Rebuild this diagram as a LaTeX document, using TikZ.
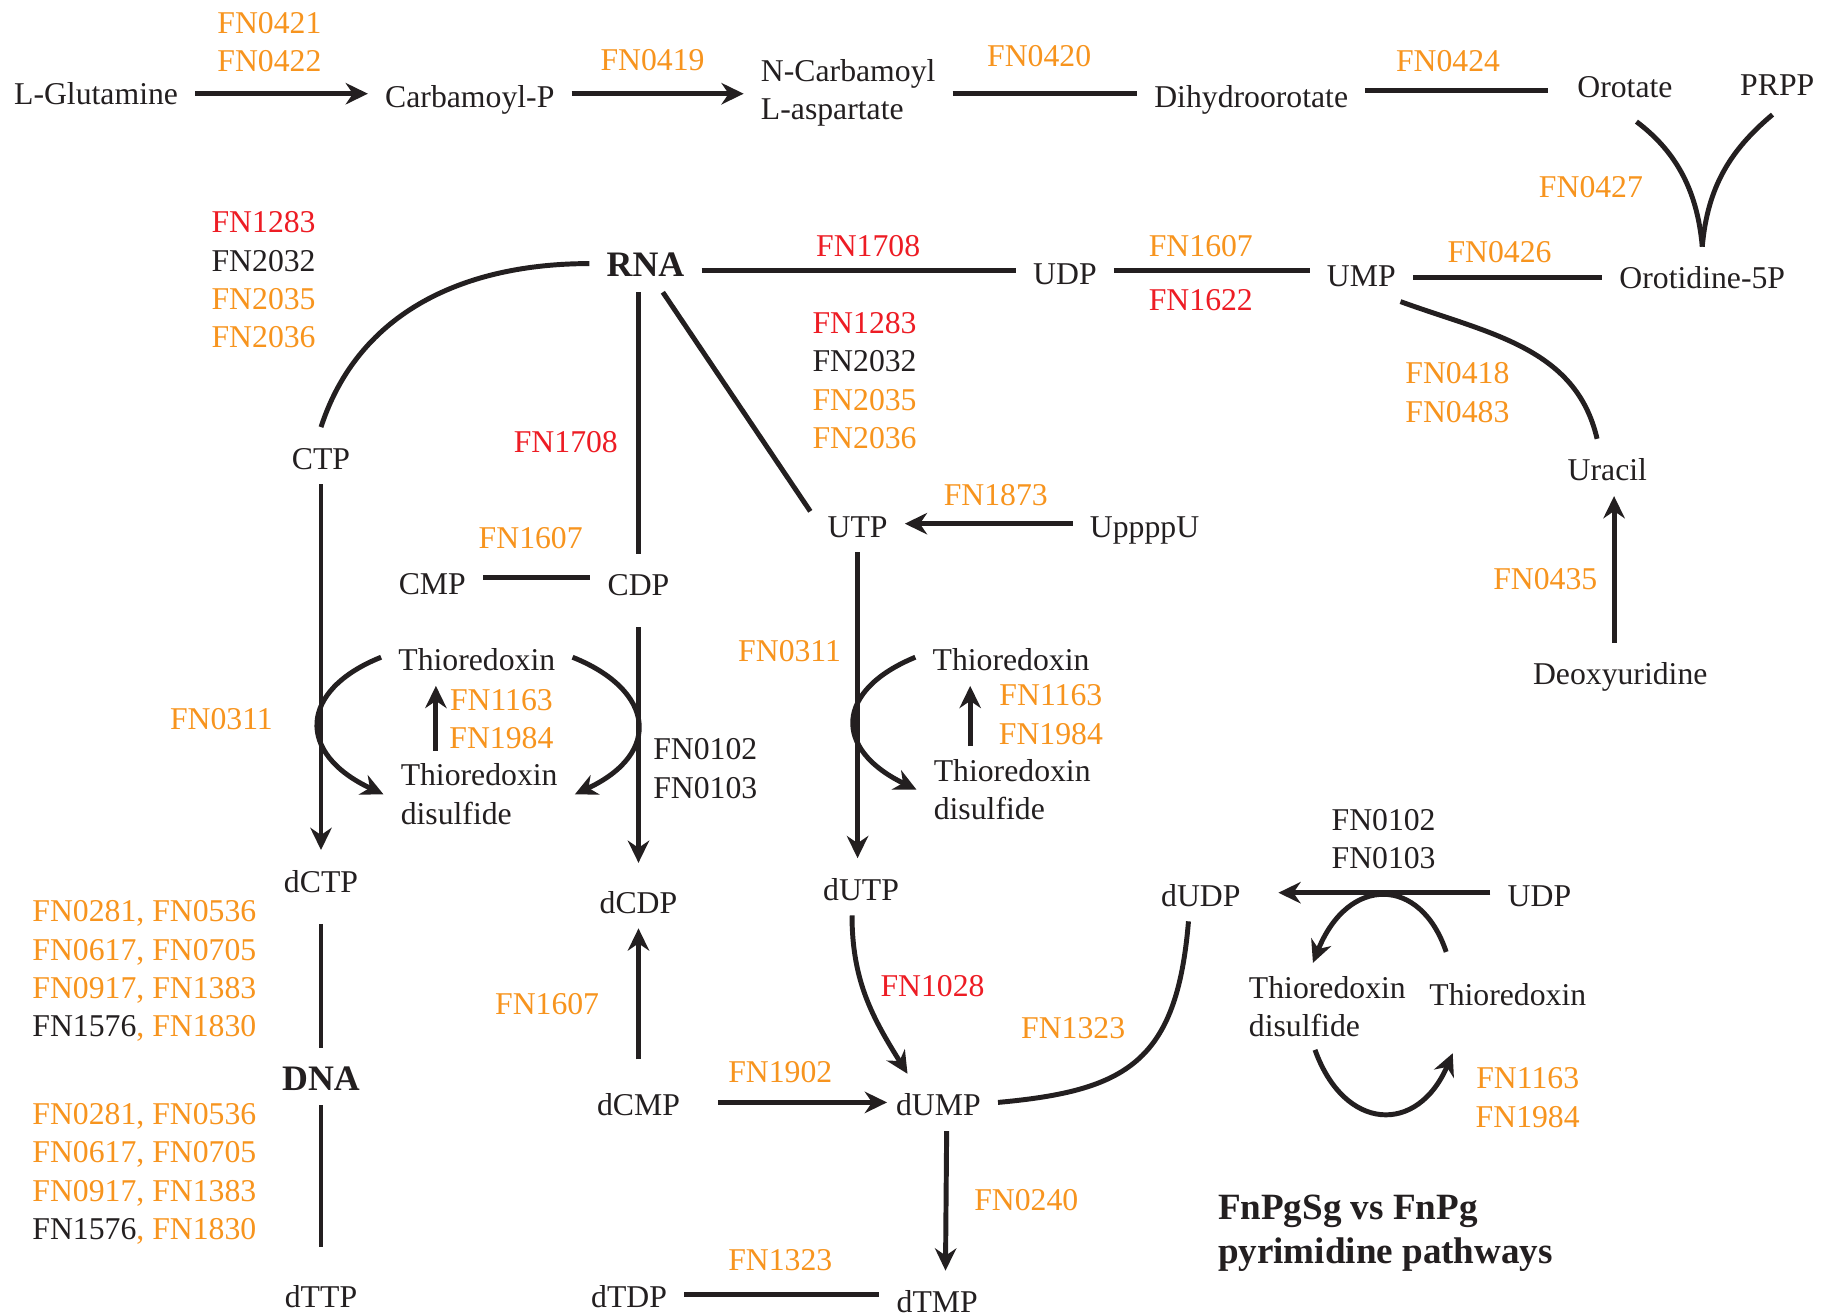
\documentclass[tikz,border=0pt]{standalone}
\usepackage{fontspec}
\setmainfont{Liberation Serif}
\usetikzlibrary{arrows.meta}
\definecolor{fnorange}{RGB}{247,148,30}
\definecolor{fnred}{RGB}{237,28,36}
\definecolor{fnblack}{RGB}{35,31,32}
\begin{document}
\begin{tikzpicture}[x=0.01cm,y=-0.01cm,
  every node/.style={font=\fontsize{7.7}{9.3}\selectfont, text=fnblack},
  met/.style={inner xsep=4pt, inner ysep=3pt, text height=0.7em, text depth=0.05em},
  metl/.style={inner xsep=4pt, inner ysep=3pt, align=left},
  bold/.style={font=\fontsize{8.7}{10}\selectfont\bfseries},
  gene/.style={inner sep=1pt, align=center, text=fnorange},
  genered/.style={gene, text=fnred},
  geneblk/.style={gene, text=fnblack},
  link/.style={draw=fnblack, line width=1.2pt},
  conv/.style={link, -{Stealth[length=5.4pt,width=5.2pt]}}]
  \newcommand\nucstack{\textcolor{fnred}{FN1283}\\\textcolor{fnblack}{FN2032}\\FN2035\\FN2036}
  \useasboundingbox (0,0) rectangle (1568,1122);
  % de novo route
  \node[met] (glu) at (82,78) {L-Glutamine};
  \node[met] (carb) at (401,80) {Carbamoyl-P};
  \node[metl] (ncarb) at (724,79) {N-Carbamoyl\\L-aspartate};
  \node[met] (dho) at (1068,80) {Dihydroorotate};
  \node[met] (oro) at (1387,72) {Orotate};
  \node[met] (prpp) at (1517,70) {PRPP};
  \node[met] (o5p) at (1453,235) {Orotidine-5P};
  \node[met] (ump) at (1162,233) {UMP};
  \node[met] (udp) at (909,231) {UDP};
  \node[met, bold] (rna) at (551,225) {RNA};
  \node[met] (ura) at (1372,399) {Uracil};
  \node[met] (dur) at (1383,573) {Deoxyuridine};
  % ribo / deoxyribo nucleotides
  \node[met] (ctp) at (274,389) {CTP};
  \node[met] (cmp) at (369,496) {CMP};
  \node[met] (cdp) at (545,497) {CDP};
  \node[met] (utp) at (732,447) {UTP};
  \node[met] (upppu) at (977,447) {UppppU};
  \node[met] (dctp) at (274,750) {dCTP};
  \node[met, bold] (dna) at (274,919) {DNA};
  \node[met] (dttp) at (274,1105) {dTTP};
  \node[met] (dcdp) at (545,768) {dCDP};
  \node[met] (dcmp) at (545,941) {dCMP};
  \node[met] (dutp) at (735,757) {dUTP};
  \node[met] (dump) at (801,941) {dUMP};
  \node[met] (dtmp) at (800,1109) {dTMP};
  \node[met] (dtdp) at (537,1105) {dTDP};
  \node[met] (dudp) at (1025,762) {dUDP};
  \node[met] (udpb) at (1314,762) {UDP};
  % thioredoxin
  \node[met] (trxa) at (407,561) {Thioredoxin};
  \node[metl] (trxda) at (409,678) {Thioredoxin\\disulfide};
  \node[met] (trxb) at (863,561) {Thioredoxin};
  \node[metl] (trxdb) at (864,674) {Thioredoxin\\disulfide};
  \node[met] (trxc) at (1287,847) {Thioredoxin};
  \node[metl] (trxdc) at (1133,859) {Thioredoxin\\disulfide};
  \coordinate (tipc) at (1240,899);
  % genes
  \node[gene] (e1) at (230,36) {FN0421\\FN0422};
  \node[gene] (e2) at (557,51) {FN0419};
  \node[gene] (e3) at (887,48) {FN0420};
  \node[gene] (e4) at (1236,52) {FN0424};
  \node[gene] (e5) at (1358,160) {FN0427};
  \node[gene] (e6) at (1280,215) {FN0426};
  \node[gene] (e7) at (1025,210) {FN1607};
  \node[genered] (e8) at (1025,256) {FN1622};
  \node[genered] (e9) at (741,210) {FN1708};
  \node[gene] (e10) at (225,239) {\nucstack};
  \node[gene] (e11) at (738,325) {\nucstack};
  \node[genered] (e12) at (483,377) {FN1708};
  \node[gene] (e13) at (453,459) {FN1607};
  \node[gene] (e14) at (189,614) {FN0311};
  \node[gene] (e15) at (428,614) {FN1163\\FN1984};
  \node[geneblk] (e16) at (602,656) {FN0102\\FN0103};
  \node[gene] (e17) at (850,423) {FN1873};
  \node[gene] (e18) at (674,556) {FN0311};
  \node[gene] (e19) at (897,610) {FN1163\\FN1984};
  \node[genered] (e20) at (796,842) {FN1028};
  \node[gene] (e21) at (467,857) {FN1607};
  \node[gene] (e22) at (666,915) {FN1902};
  \node[gene] (e23) at (916,878) {FN1323};
  \node[geneblk] (e24) at (1181,716) {FN0102\\FN0103};
  \node[gene] (e25) at (1304,937) {FN1163\\FN1984};
  \node[gene] (e26) at (876,1024) {FN0240};
  \node[gene] (e27) at (666,1076) {FN1323};
  \node[gene] (e28) at (1244,335) {FN0418\\FN0483};
  \node[gene] (e29) at (1319,494) {FN0435};
  \foreach \yy/\nm in {829/pola, 1002/polb}
    \node[gene, align=right, anchor=east] (\nm) at (223,\yy)
      {FN0281, FN0536\\FN0617, FN0705\\FN0917, FN1383\\\textcolor{fnblack}{FN1576}, FN1830};
  \node[align=left, anchor=north west, inner sep=0pt,
    font=\fontsize{9}{10.8}\selectfont\bfseries] (title) at (1039,1019)
    {FnPgSg vs FnPg\\pyrimidine pathways};
  % connectors
  \draw[conv] (carb.west -| glu.east) -- (carb.west);
  \draw[conv] (carb.east) -- (carb.east -| ncarb.west);
  \draw[link] (dho.west -| ncarb.east) -- (dho.west);
  \draw[link, shorten >=3pt] ([yshift=0.8pt]dho.east) -- ([yshift=0.8pt]dho.east -| oro.west);
  \draw[link, shorten <=3.5pt] (oro.south) to[out=-37,in=95] (o5p.north);
  \draw[link, shorten <=1.5pt] (prpp.south) to[out=-140,in=85] (o5p.north);
  \draw[link] ([yshift=-1pt]ump.east) -- ([yshift=-1pt]ump.east -| o5p.west);
  \draw[link] (udp.east) -- (udp.east -| ump.west);
  \draw[link] (udp.west -| rna.east) -- (udp.west);
  \draw[link] (rna.west) to[out=180,in=72] (ctp.north);
  \draw[link] (rna.south -| cdp) -- (cdp.north);
  \draw[link] ([xshift=4.2pt]rna.south) -- ([yshift=3pt]utp.west);
  \draw[conv] (upppu.west) -- (utp.east);
  \draw[link] ([yshift=0.8pt]cmp.east) -- ([yshift=0.8pt]cmp.east -| cdp.west);
  \draw[conv] (ctp.south) -- (dctp.north);
  \draw[conv, shorten <=4pt] (cdp.south) -- ([yshift=2pt]dcdp.north);
  \draw[conv] (utp.south) -- (utp.south |- dutp.north);
  \draw[link, shorten <=4pt] (dctp.south) -- (dna.north);
  \draw[link] (dna.south) -- ([yshift=4.5pt]dttp.north);
  \draw[conv, shorten <=3.5pt] (dcmp.north) -- (dcdp.south);
  \draw[conv, shorten <=5pt, shorten >=-2pt] (dcmp.east) -- (dump.west);
  \draw[conv] ([xshift=2pt]dump.south) -- ([xshift=2pt]dtmp.north);
  \draw[link] (dtdp.east) -- (dtdp.east -| dtmp.west);
  \draw[conv] ([xshift=-2.2pt]dutp.south) to[out=-90,in=122] ([xshift=-7.5pt]dump.north);
  \draw[link] (dump.east) .. controls +(110,-10) and +(-10,120) .. ([xshift=-3pt]dudp.south);
  \draw[conv, shorten >=5pt] (udpb.west) -- (dudp.east);
  \draw[link] ([xshift=9.5pt]ump.south) to[out=-20,in=103] ([xshift=-2.5pt]ura.north);
  \draw[conv] ([xshift=-1.5pt]dur.north) -- ([xshift=-1.5pt]dur.north |- ura.south);
  % thioredoxin cycles
  \draw[conv] (trxa.west) .. controls +(-70,28) and +(-75,-35) .. (trxda.west);
  \draw[conv] (trxa.east) .. controls +(70,28) and +(75,-35) .. (trxda.east);
  \draw[conv] ([xshift=-10.5pt]trxda.north) -- ([xshift=-10.5pt]trxda.north |- trxa.south);
  \draw[conv] (trxb.west) .. controls +(-68,28) and +(-72,-35) .. (trxdb.west);
  \draw[conv] ([xshift=-10.2pt]trxdb.north) -- ([xshift=-10.2pt]trxdb.north |- trxb.south);
  \draw[conv, shorten <=3pt] ([xshift=-14pt]trxc.north) .. controls +(-25,-75) and +(30,-75) .. ([xshift=-3.5pt]trxdc.north);
  \draw[conv] ([xshift=-3pt]trxdc.south) .. controls +(25,70) and +(-30,70) .. (tipc);
\end{tikzpicture}
\end{document}
